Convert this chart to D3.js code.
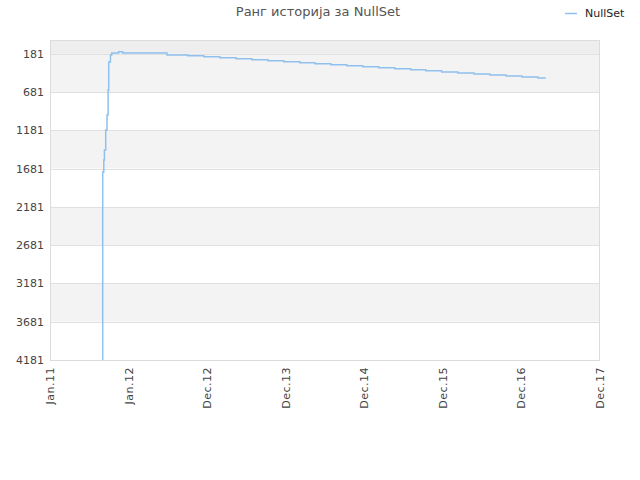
<!DOCTYPE html>
<html>
<head>
<meta charset="utf-8">
<script src="https://cdn.jsdelivr.net/npm/d3@7"></script>
<style>
  body { margin: 0; background: #fff; }
  svg text { font-family: "DejaVu Sans", sans-serif; }
</style>
</head>
<body>
<svg id="chart" width="640" height="480"></svg>
<script>
// rank history
const dates = [
  '2011-09-02', '2011-09-03', '2011-09-08', '2011-09-11', '2011-09-17', '2011-09-23',
  '2011-09-28', '2011-10-01', '2011-10-09', '2011-10-15', '2011-11-16', '2011-12-05',
  '2012-06-28', '2012-10-03', '2012-12-16', '2013-03-01', '2013-05-15', '2013-07-28',
  '2013-10-10', '2013-12-23', '2014-03-08', '2014-05-17', '2014-07-30', '2014-10-12',
  '2014-12-25', '2015-03-09', '2015-05-23', '2015-08-05', '2015-10-14', '2015-12-27',
  '2016-03-11', '2016-05-25', '2016-08-07', '2016-10-21', '2017-01-03', '2017-03-18',
  '2017-04-24'
];
const ranks = [
  4181, 1725, 1568, 1437, 1176, 980,
  653, 287, 196, 170, 153, 170,
  196, 205, 218, 231, 244, 257,
  270, 283, 297, 310, 323, 336,
  349, 362, 375, 388, 401, 418,
  431, 444, 457, 470, 483, 496,
  496
];
const yTicks = [181, 681, 1181, 1681, 2181, 2681, 3181, 3681, 4181];
const xTickDates = ['2011-01-01', '2012-01-01', '2013-01-01', '2014-01-01',
                    '2015-01-01', '2016-01-01', '2017-01-01', '2018-01-01'];
const xTickLabels = ['Jan.11', 'Jan.12', 'Dec.12', 'Dec.13', 'Dec.14', 'Dec.15', 'Dec.16', 'Dec.17'];
const seriesName = 'NullSet';
const title = 'Ранг историја за NullSet';

const parse = d3.timeParse('%Y-%m-%d');
const data = dates.map((d, i) => ({ date: parse(d), rank: ranks[i] }));

const svg = d3.select('#chart');
const m = { left: 50, right: 40, top: 40, bottom: 120 };
const W = 640, H = 480;
const iw = W - m.left - m.right, ih = H - m.top - m.bottom;

const x = d3.scaleTime()
  .domain([parse(xTickDates[0]), parse(xTickDates[xTickDates.length - 1])])
  .range([m.left, m.left + iw]);
const y = d3.scaleLinear().domain([0, 4181]).range([m.top, m.top + ih]);

// background bands
const bandEdges = [0].concat(yTicks);
const g = svg.append('g');
for (let i = 0; i < bandEdges.length - 1; i++) {
  let fill = i === 0 ? '#eeeeee' : (i % 2 === 1 ? '#f3f3f3' : '#ffffff');
  g.append('rect')
    .attr('x', m.left).attr('width', iw)
    .attr('y', y(bandEdges[i])).attr('height', y(bandEdges[i + 1]) - y(bandEdges[i]))
    .attr('fill', fill);
}
// gridlines
yTicks.forEach(t => {
  g.append('line')
    .attr('x1', m.left).attr('x2', m.left + iw)
    .attr('y1', Math.round(y(t)) + 0.5).attr('y2', Math.round(y(t)) + 0.5)
    .attr('stroke', '#e0e0e0');
});
// frame
g.append('rect')
  .attr('x', m.left + 0.5).attr('y', m.top + 0.5)
  .attr('width', iw - 1).attr('height', ih)
  .attr('fill', 'none').attr('stroke', '#dcdcdc');

// y labels
svg.append('g').selectAll('text').data(yTicks).join('text')
  .attr('x', m.left - 6).attr('y', d => y(d) + 4)
  .attr('text-anchor', 'end')
  .attr('font-size', 11).attr('fill', '#444')
  .text(d => d);

// x labels (rotated)
svg.append('g').selectAll('text').data(xTickDates).join('text')
  .attr('transform', d => `translate(${x(parse(d)) + 4},${m.top + ih + 7}) rotate(-90)`)
  .attr('text-anchor', 'end')
  .attr('font-size', 11).attr('fill', '#444')
  .attr('letter-spacing', 0.5)
  .text((d, i) => xTickLabels[i]);

// line
const line = d3.line()
  .x(d => x(d.date)).y(d => y(d.rank))
  .curve(d3.curveStepAfter);
svg.append('clipPath').attr('id', 'clip')
  .append('rect').attr('x', m.left).attr('y', m.top).attr('width', iw).attr('height', ih);
svg.append('path')
  .datum(data)
  .attr('clip-path', 'url(#clip)')
  .attr('d', line)
  .attr('fill', 'none')
  .attr('stroke', '#8fc0f0')
  .attr('stroke-width', 1.5);

// title
svg.append('text')
  .attr('x', 318).attr('y', 16)
  .attr('text-anchor', 'middle')
  .attr('font-size', 13).attr('fill', '#555')
  .text(title);

// legend
svg.append('line')
  .attr('x1', 565).attr('x2', 577).attr('y1', 13.5).attr('y2', 13.5)
  .attr('stroke', '#8fc0f0').attr('stroke-width', 1.5);
svg.append('text')
  .attr('x', 585).attr('y', 17)
  .attr('font-size', 11).attr('fill', '#222')
  .text(seriesName);
</script>
</body>
</html>
